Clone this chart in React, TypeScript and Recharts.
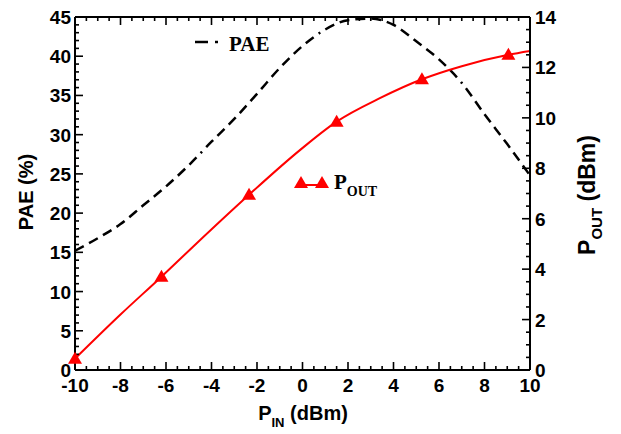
import React from "react";
import { ComposedChart, Line, Scatter, XAxis, YAxis } from "recharts";

// PAE (%) vs input power
const pinPae = [-10, -9, -8, -7, -6, -5, -4, -3, -2, -1, 0, 1, 2, 3, 4, 5, 6, 7, 8, 9, 10];
const paeValues = [15.2, 16.8, 18.6, 21.0, 23.4, 26.1, 29.1, 32.0, 35.2, 38.5, 41.3, 43.4, 44.6, 44.8, 44.0, 41.9, 39.6, 36.6, 32.6, 28.8, 24.8];

// Output power (dBm) vs input power
const pinPout = [-10, -8, -6.2, -4.8, -2.35, -0.1, 1.5, 3.4, 5.25, 7, 9.05, 10];
const poutValues = [0.45, 2.2, 3.7, 4.9, 6.95, 8.73, 9.85, 10.78, 11.53, 12.05, 12.5, 12.65];
const poutMarkers = [-10, -6.2, -2.35, 1.5, 5.25, 9.05];

const xMajor = [-10, -8, -6, -4, -2, 0, 2, 4, 6, 8, 10];
const paeMajor = [0, 5, 10, 15, 20, 25, 30, 35, 40, 45];
const poutMajor = [0, 2, 4, 6, 8, 10, 12, 14];

const paeData = pinPae.map((pin, i) => ({ pin, pae: paeValues[i] }));
const poutData = pinPout.map((pin, i) => ({ pin, pout: poutValues[i] }));

function subdivide(major: number[], n: number) {
  const out: number[] = [];
  for (let i = 0; i < major.length - 1; i++) {
    const step = (major[i + 1] - major[i]) / n;
    for (let k = 0; k < n; k++) out.push(+(major[i] + k * step).toFixed(3));
  }
  out.push(major[major.length - 1]);
  return out;
}

const xTicks = subdivide(xMajor, 4);
const paeTicks = subdivide(paeMajor, 5);
const poutTicks = subdivide(poutMajor, 4);

// tick mark positions, placed through the chart's own scales
const bottomMarks = xTicks.map((pin) => ({ pin, pae: 0 }));
const topMarks = xTicks.map((pin) => ({ pin, pae: 45 }));
const leftMarks = paeTicks.map((pae) => ({ pin: -10, pae }));
const rightMarks = poutTicks.map((pout) => ({ pin: 10, pout }));

const SANS = "'Liberation Sans', Arial, sans-serif";
const SERIF = "'Liberation Serif', 'Times New Roman', serif";
const RED = "#ff0000";

const isMajor = (v: number, major: number[]) => major.some((m) => Math.abs(m - v) < 1e-6);

function TickMark(props: any) {
  const { cx, cy, payload, side } = props;
  let d = "";
  if (side === "bottom") {
    const len = isMajor(payload.pin, xMajor) ? 8 : 4;
    d = `M${cx},${cy}L${cx},${cy - len}`;
  } else if (side === "top") {
    const len = isMajor(payload.pin, xMajor) ? 8 : 4;
    d = `M${cx},${cy}L${cx},${cy + len}`;
  } else if (side === "left") {
    const len = isMajor(payload.pae, paeMajor) ? 8 : 4;
    d = `M${cx},${cy}L${cx + len},${cy}`;
  } else {
    const len = isMajor(payload.pout, poutMajor) ? 8 : 4;
    d = `M${cx},${cy}L${cx - len},${cy}`;
  }
  return <path d={d} stroke="#000" strokeWidth={1.6} fill="none" />;
}

// labels outside the frame, major ticks only
function AxisLabel(props: any) {
  const { x, y, payload, side, major } = props;
  const v = payload.value;
  if (!isMajor(v, major) || side === "top") return <g />;
  let lx = x;
  let ly = y;
  let anchor = "middle";
  if (side === "bottom") ly = y + 22;
  else if (side === "left") { lx = x - 4; ly = y + 7; anchor = "end"; }
  else { lx = x + 5; ly = y + 7; anchor = "start"; }
  return (
    <text x={lx} y={ly} textAnchor={anchor} fontFamily={SANS} fontWeight={700} fontSize={19} fill="#000">
      {v}
    </text>
  );
}

function Triangle(props: any) {
  const { cx, cy, payload } = props;
  if (!poutMarkers.includes(payload.pin)) return <g />;
  return <polygon points={`${cx},${cy - 7} ${cx - 7},${cy + 5} ${cx + 7},${cy + 5}`} fill={RED} />;
}

export default function App() {
  return (
    <div style={{ position: "absolute", left: 0, top: 0, width: 621, height: 434 }}>
      <ComposedChart width={621} height={434} margin={{ top: 16, right: 31, bottom: 34, left: 15 }}>
        <XAxis xAxisId="bottom" dataKey="pin" type="number" domain={[-10, 10]} ticks={xTicks} interval={0} height={30}
          tickSize={0} tickMargin={0} axisLine={{ stroke: "#000", strokeWidth: 2 }} tickLine={false}
          tick={(p: any) => <AxisLabel {...p} side="bottom" major={xMajor} />} />
        <XAxis xAxisId="top" orientation="top" dataKey="pin" type="number" domain={[-10, 10]} ticks={xMajor} interval={0} height={1}
          tickSize={0} tickMargin={0} axisLine={{ stroke: "#000", strokeWidth: 2 }} tickLine={false} tick={false} />
        <YAxis yAxisId="pae" orientation="left" type="number" domain={[0, 45]} ticks={paeTicks} interval={0} width={60}
          tickSize={0} tickMargin={0} axisLine={{ stroke: "#000", strokeWidth: 2 }} tickLine={false}
          tick={(p: any) => <AxisLabel {...p} side="left" major={paeMajor} />} />
        <YAxis yAxisId="pout" orientation="right" type="number" domain={[0, 14]} ticks={poutTicks} interval={0} width={60}
          tickSize={0} tickMargin={0} axisLine={{ stroke: "#000", strokeWidth: 2 }} tickLine={false}
          tick={(p: any) => <AxisLabel {...p} side="right" major={poutMajor} />} />

        <Scatter data={bottomMarks} xAxisId="bottom" yAxisId="pae" dataKey="pae" isAnimationActive={false}
          shape={(p: any) => <TickMark {...p} side="bottom" />} />
        <Scatter data={topMarks} xAxisId="bottom" yAxisId="pae" dataKey="pae" isAnimationActive={false}
          shape={(p: any) => <TickMark {...p} side="top" />} />
        <Scatter data={leftMarks} xAxisId="bottom" yAxisId="pae" dataKey="pae" isAnimationActive={false}
          shape={(p: any) => <TickMark {...p} side="left" />} />
        <Scatter data={rightMarks} xAxisId="bottom" yAxisId="pout" dataKey="pout" isAnimationActive={false}
          shape={(p: any) => <TickMark {...p} side="right" />} />

        <Line data={paeData} xAxisId="bottom" yAxisId="pae" dataKey="pae" type="monotone" stroke="#000" strokeWidth={2.5}
          strokeDasharray="10 6 10 6 10 6 10 6 10 6 10 6 10 6 10 6 10 6 10 6 2 6" dot={false} isAnimationActive={false} />
        <Line data={poutData} xAxisId="bottom" yAxisId="pout" dataKey="pout" type="monotone" stroke={RED} strokeWidth={2}
          dot={(p: any) => <Triangle key={`t${p.index}`} {...p} />} isAnimationActive={false} />
      </ComposedChart>
      <svg width={621} height={434} style={{ position: "absolute", left: 0, top: 0, pointerEvents: "none" }}>
        <text transform="translate(33,192) rotate(-90)" textAnchor="middle" fontFamily={SANS} fontWeight={700} fontSize={20}>
          PAE (%)
        </text>
        <text x={303} y={420} textAnchor="middle" fontFamily={SANS} fontWeight={700} fontSize={20}>
          P<tspan fontSize={13} dy={7}>IN</tspan>
          <tspan dy={-7}> (dBm)</tspan>
        </text>
        <text transform="translate(595,195) rotate(-90)" textAnchor="middle" fontFamily={SANS} fontWeight={700} fontSize={23}>
          P<tspan fontSize={15} dy={7}>OUT</tspan>
          <tspan dy={-7}> (dBm)</tspan>
        </text>
        <line x1={195} y1={42} x2={208} y2={42} stroke="#000" strokeWidth={2.5} />
        <line x1={215} y1={42} x2={218} y2={42} stroke="#000" strokeWidth={2.5} />
        <text x={229} y={51} fontFamily={SERIF} fontWeight={700} fontSize={21}>
          PAE
        </text>
        <line x1={301} y1={185} x2={322} y2={185} stroke={RED} strokeWidth={2} />
        <polygon points="301,176 294,188 308,188" fill={RED} />
        <polygon points="322,176 315,188 329,188" fill={RED} />
        <text x={334} y={189} fontFamily={SERIF} fontWeight={700} fontSize={21}>
          P<tspan fontSize={14} dy={7}>OUT</tspan>
        </text>
      </svg>
    </div>
  );
}
